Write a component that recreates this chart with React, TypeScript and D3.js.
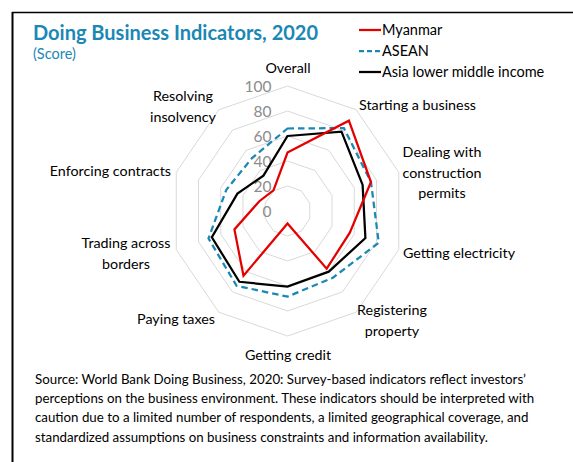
import { useEffect, useRef } from "react";
import * as d3 from "d3";

// indicator names, clockwise from the top
const indicators = [
  "Overall",
  "Starting a business",
  "Dealing with construction permits",
  "Getting electricity",
  "Registering property",
  "Getting credit",
  "Paying taxes",
  "Trading across borders",
  "Enforcing contracts",
  "Resolving insolvency",
];

const myanmar = [46.8, 89.3, 75, 56, 57, 10, 64, 47.7, 25.3, 20.4];
const asean = [66, 82, 75, 82, 66, 68.5, 74, 71, 55, 52];
const asiaLmi = [60, 78.5, 67.5, 70, 60, 60.5, 70, 68, 45, 35];

const ringTicks = [0, 20, 40, 60, 80, 100];

const seriesNames = ["Myanmar", "ASEAN", "Asia lower middle income"];

const sourceLines = [
  "Source: World Bank Doing Business, 2020: Survey-based indicators reflect investors\u2019",
  "perceptions on the business environment. These indicators should be interpreted with",
  "caution due to a limited number of respondents, a limited geographical coverage, and",
  "standardized assumptions on business constraints and information availability.",
];

// where each category label sits (the original wraps some of them)
const labelLayout = [
  { lines: ["Overall"], x: 288, y: 68, anchor: "middle" },
  { lines: ["Starting a business"], x: 359, y: 105, anchor: "start" },
  { lines: ["Dealing with", "construction", "permits"], x: 442, y: 152, anchor: "middle" },
  { lines: ["Getting electricity"], x: 403, y: 253, anchor: "start" },
  { lines: ["Registering", "property"], x: 392, y: 310, anchor: "middle" },
  { lines: ["Getting credit"], x: 288, y: 355, anchor: "middle" },
  { lines: ["Paying taxes"], x: 215, y: 319, anchor: "end" },
  { lines: ["Trading across", "borders"], x: 126, y: 243, anchor: "middle" },
  { lines: ["Enforcing contracts"], x: 171, y: 171, anchor: "end" },
  { lines: ["Resolving", "insolvency"], x: 183, y: 96, anchor: "middle" },
];

const FONT = "Lato, 'Open Sans', sans-serif";

export default function App() {
  const ref = useRef<SVGSVGElement>(null);

  useEffect(() => {
    const svg = d3.select(ref.current);
    svg.selectAll("*").remove();

    const cx = 287.5;
    const cy = 211;
    const rx = 117;
    const ry = 125;

    const rScale = d3.scaleLinear().domain([0, 100]).range([0, 1]);
    const angle = d3
      .scaleLinear()
      .domain([0, indicators.length])
      .range([0, 2 * Math.PI]);

    const pt = (v: number, i: number): [number, number] => [
      cx + rx * rScale(v) * Math.sin(angle(i)),
      cy - ry * rScale(v) * Math.cos(angle(i)),
    ];

    const closedLine = d3
      .line<[number, number]>()
      .x((d) => d[0])
      .y((d) => d[1])
      .curve(d3.curveLinearClosed);

    // frame
    svg.append("line").attr("x1", 12.5).attr("x2", 12.5).attr("y1", 12).attr("y2", 462)
      .attr("stroke", "#000").attr("stroke-width", 2);
    svg.append("line").attr("x1", 12).attr("x2", 573).attr("y1", 12.5).attr("y2", 12.5)
      .attr("stroke", "#000").attr("stroke-width", 1.5);

    // title
    svg.append("text").attr("x", 33).attr("y", 40)
      .attr("font-family", FONT).attr("font-weight", 700).attr("font-size", 20)
      .attr("fill", "#1a88b5").text("Doing Business Indicators, 2020");
    svg.append("text").attr("x", 33).attr("y", 59)
      .attr("font-family", FONT).attr("font-size", 14.5)
      .attr("fill", "#1a88b5").text("(Score)");

    // grid rings
    const grid = svg.append("g");
    grid.selectAll("path")
      .data(ringTicks.filter((t) => t > 0))
      .join("path")
      .attr("d", (t) => closedLine(indicators.map((_, i) => pt(t, i))))
      .attr("fill", "none")
      .attr("stroke", "#d9d9d9")
      .attr("stroke-width", 1);

    grid.selectAll("text")
      .data(ringTicks)
      .join("text")
      .attr("x", cx - 16)
      .attr("y", (t) => pt(t, 0)[1])
      .attr("dy", "0.36em")
      .attr("text-anchor", "end")
      .attr("font-family", FONT)
      .attr("font-size", 15.5)
      .attr("fill", "#8c8c8c")
      .text((t) => t);

    // series
    const series = [
      { name: seriesNames[0], values: myanmar, color: "#e50000", dash: null },
      { name: seriesNames[1], values: asean, color: "#1a88b5", dash: "6.5 4" },
      { name: seriesNames[2], values: asiaLmi, color: "#000000", dash: null },
    ];

    svg.append("g").selectAll("path")
      .data([series[1], series[2], series[0]])
      .join("path")
      .attr("d", (s) => closedLine(s.values.map((v, i) => pt(v, i))))
      .attr("fill", "none")
      .attr("stroke", (s) => s.color)
      .attr("stroke-width", 2.25)
      .attr("stroke-dasharray", (s) => s.dash)
      .attr("stroke-linejoin", "miter");

    // category labels
    const labels = svg.append("g")
      .attr("font-family", FONT).attr("font-size", 14.3).attr("fill", "#000");
    labelLayout.forEach((l) => {
      const t = labels.append("text").attr("text-anchor", l.anchor);
      l.lines.forEach((line, k) => {
        t.append("tspan").attr("x", l.x).attr("y", l.y + k * 20.5)
          .attr("dy", "0.35em").text(line);
      });
    });

    // legend
    const legend = svg.append("g").attr("font-family", FONT).attr("font-size", 14.5);
    series.forEach((s, i) => {
      const y = 30 + i * 21;
      legend.append("line").attr("x1", 359).attr("x2", 381).attr("y1", y).attr("y2", y)
        .attr("stroke", s.color).attr("stroke-width", 2.25)
        .attr("stroke-dasharray", s.dash ? "5 3" : null);
      legend.append("text").attr("x", 382).attr("y", y).attr("dy", "0.35em").text(s.name);
    });

    // source note
    svg.append("g").selectAll("text")
      .data(sourceLines)
      .join("text")
      .attr("x", 35)
      .attr("y", (_, i) => 379 + i * 19.3)
      .attr("dy", "0.35em")
      .attr("font-family", FONT)
      .attr("font-size", 13.3)
      .attr("fill", "#000")
      .text((d) => d);
  }, []);

  return (
    <svg
      ref={ref}
      width={573}
      height={462}
      style={{ position: "absolute", left: 0, top: 0, background: "#fff" }}
    />
  );
}
